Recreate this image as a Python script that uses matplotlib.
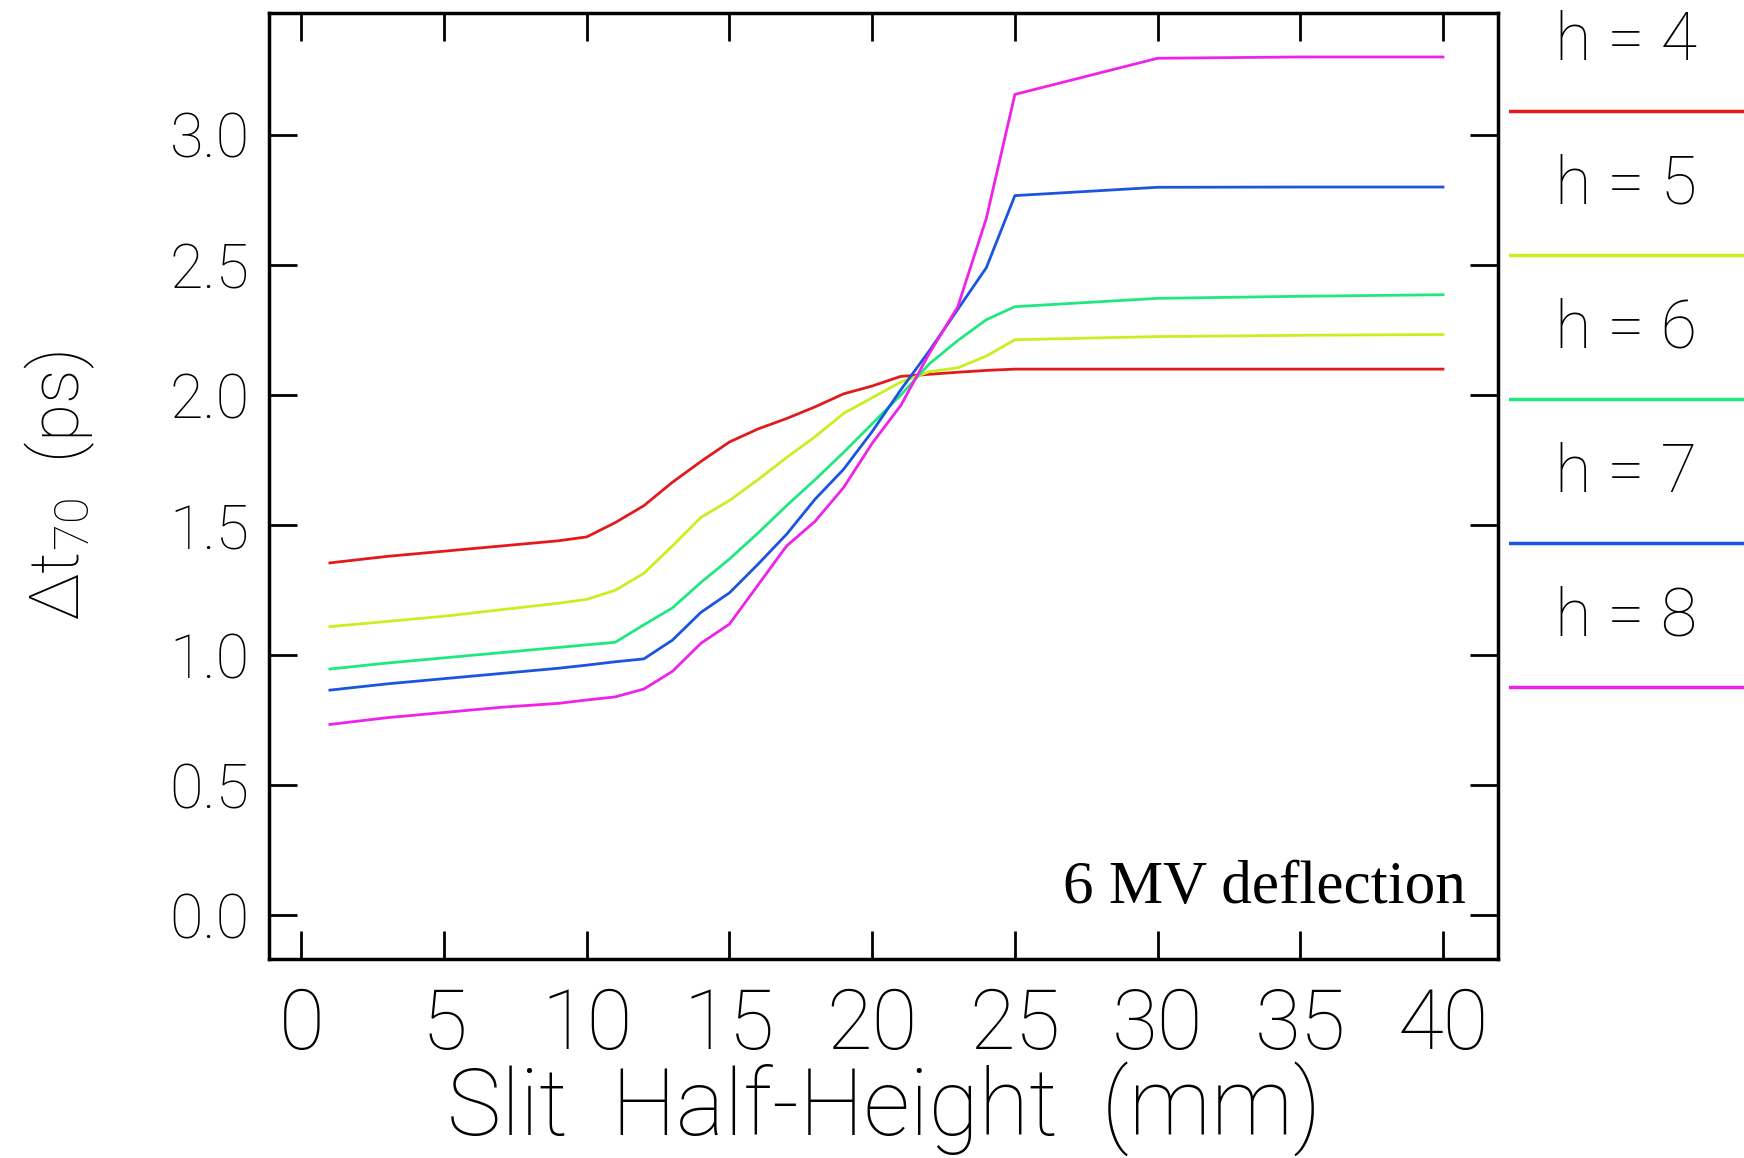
import numpy as np
import matplotlib
matplotlib.use("Agg")
import matplotlib.pyplot as plt

# slit half-height samples (mm)
slit = [1, 3, 5, 7, 9, 10, 11, 12, 13, 14, 15, 16, 17, 18, 19, 20, 21, 22, 23, 24, 25, 30, 35, 40]

# delta t70 (ps) for each h
dt_h4 = [1.355, 1.38, 1.40, 1.42, 1.44, 1.455, 1.51, 1.575, 1.665, 1.745, 1.82, 1.87,
         1.91, 1.955, 2.005, 2.035, 2.072, 2.08, 2.088, 2.095, 2.10, 2.10, 2.10, 2.10]
dt_h5 = [1.11, 1.13, 1.15, 1.175, 1.20, 1.215, 1.25, 1.315, 1.42, 1.53, 1.595, 1.675,
         1.76, 1.84, 1.93, 1.99, 2.05, 2.09, 2.105, 2.15, 2.213, 2.225, 2.23, 2.233]
dt_h6 = [0.947, 0.97, 0.99, 1.01, 1.03, 1.04, 1.05, 1.117, 1.182, 1.28, 1.37, 1.47,
         1.575, 1.675, 1.78, 1.89, 2.00, 2.12, 2.21, 2.29, 2.34, 2.372, 2.38, 2.386]
dt_h7 = [0.866, 0.89, 0.91, 0.93, 0.95, 0.962, 0.975, 0.986, 1.058, 1.165, 1.24, 1.35,
         1.465, 1.60, 1.715, 1.86, 2.02, 2.17, 2.33, 2.49, 2.767, 2.799, 2.80, 2.80]
dt_h8 = [0.734, 0.76, 0.78, 0.80, 0.815, 0.828, 0.84, 0.87, 0.938, 1.046, 1.12, 1.27,
         1.42, 1.515, 1.645, 1.815, 1.96, 2.16, 2.34, 2.68, 3.156, 3.295, 3.30, 3.30]

h_values = [4, 5, 6, 7, 8]
series = [dt_h4, dt_h5, dt_h6, dt_h7, dt_h8]
colors = ['#e31a1c', '#c8f020', '#20e880', '#1a55e0', '#ee22e8']

x_ticks = [0, 5, 10, 15, 20, 25, 30, 35, 40]
y_ticks = [0.0, 0.5, 1.0, 1.5, 2.0, 2.5, 3.0]

plt.rcParams['font.family'] = ['Roboto', 'DejaVu Sans']
plt.rcParams['font.weight'] = 'light'
plt.rcParams['axes.labelweight'] = 'light'
plt.rcParams['mathtext.fontset'] = 'custom'
plt.rcParams['mathtext.rm'] = 'Roboto:light'
plt.rcParams['mathtext.it'] = 'Roboto:light'

fig = plt.figure(figsize=(17.44, 11.58), dpi=100)
ax = fig.add_axes([0.1543, 0.172, 0.7047, 0.817])

for y, c in zip(series, colors):
    ax.plot(slit, y, color=c, lw=2)

ax.set_xlim(-1.13, 41.93)
ax.set_ylim(-0.167, 3.47)
ax.set_xticks(x_ticks)
ax.set_yticks(y_ticks)
ax.set_xticklabels([str(t) for t in x_ticks], fontsize=60)
ax.set_yticklabels(['%.1f' % t for t in y_ticks], fontsize=44)
ax.tick_params(axis='both', direction='in', length=20, width=2,
               top=True, right=True)
ax.tick_params(axis='x', pad=20)
ax.tick_params(axis='y', pad=14)
for s in ax.spines.values():
    s.set_linewidth(2.5)

ax.set_xlabel('Slit  Half-Height  (mm)', fontsize=66, labelpad=-4)
ax.set_ylabel(r'$\Delta$t$_{70}$  (ps)', fontsize=50, labelpad=52)

ax.text(0.974, 0.059, '6 MV deflection', transform=ax.transAxes,
        ha='right', va='baseline', fontsize=44, family='Liberation Serif',
        weight='normal')

# legend column on the right: label above a coloured line
leg = fig.add_axes([0.865, 0.345, 0.135, 0.655])
leg.set_xlim(0, 1)
leg.set_ylim(-0.5, 4.77)
leg.axis('off')
for i, (h, c) in enumerate(zip(h_values, colors)):
    row = len(h_values) - 1 - i
    leg.axhline(row, color=c, lw=2.5)
    leg.text(0.5, row + 0.48, 'h = %d' % h, ha='center', va='center', fontsize=48)

fig.savefig('out.png', dpi=100, facecolor='white')
